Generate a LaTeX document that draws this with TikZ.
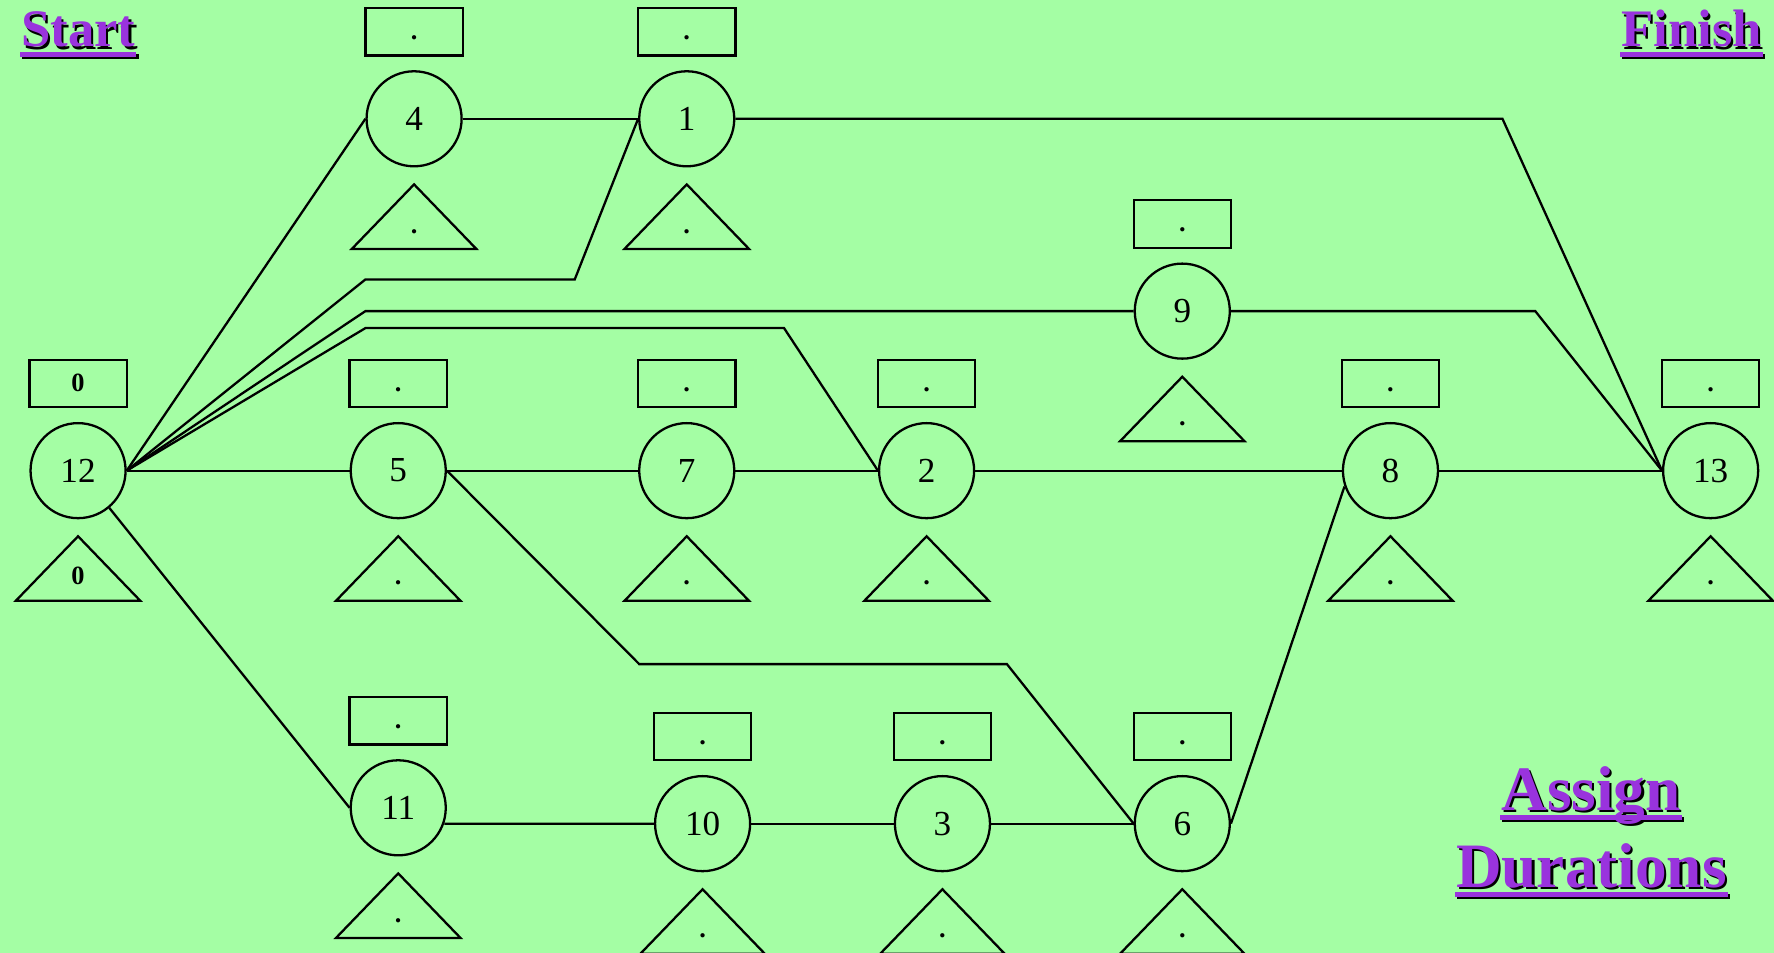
\documentclass[tikz,border=0pt]{standalone}
\usepackage{fontspec}
\setmainfont{Liberation Serif}
\usetikzlibrary{calc}
\definecolor{bggreen}{RGB}{164,254,164}
\definecolor{titlepurple}{RGB}{153,51,221}

% one activity: numbered circle, estimate box above, triangle below
\newcommand\activity[5]{%
  \node[ev] (n#1) at (#2,#3) {#4};
  \node[estbox] (b#1) at (#2,#3-77) {};
  \node[lbl] (bl#1) at (#2,#3-70) {#5};
  \draw[tri] (#2,#3+58) -- (#2+55,#3+115) -- (#2-55,#3+115) -- cycle;
  \node[lbl] (tl#1) at (#2,#3+101) {#5};
}

% underlined purple heading with a black drop shadow
\newcommand\heading[5]{%
  \node[ttl, text=black, font=\fontsize{#4}{#4}\selectfont\bfseries] (s#1) at (#2+2,#3+2) {#5};
  \fill[black] ($(s#1.base west)+(0,4.5)$) rectangle ($(s#1.base east)+(0,8.5)$);
  \node[ttl, text=titlepurple, font=\fontsize{#4}{#4}\selectfont\bfseries] (#1) at (#2,#3) {#5};
  \fill[titlepurple] ($(#1.base west)+(0,4.5)$) rectangle ($(#1.base east)+(0,8.5)$);
}

\begin{document}
\begin{tikzpicture}[
  x=0.022628cm, y=-0.022628cm,
  line width=1.3pt,
  ev/.style={draw, circle, inner sep=0pt, minimum size=1.9008cm,
             font=\fontsize{20pt}{24pt}\selectfont},
  estbox/.style={draw, rectangle, inner sep=0pt, minimum width=1.946cm, minimum height=0.95cm},
  lbl/.style={anchor=base, inner sep=0pt, font=\fontsize{15pt}{18pt}\selectfont\bfseries},
  tri/.style={draw, line join=miter},
  ttl/.style={anchor=base west, inner sep=0pt},
  link/.style={draw}
]
\fill[bggreen] (0,0) rectangle (1568,842);
\useasboundingbox (0,0) rectangle (1568,842);

\activity{12}{69}{416}{12}{0}
\activity{4}{366}{105}{4}{.}
\activity{1}{607}{105}{1}{.}
\activity{9}{1045}{275}{9}{.}
\activity{5}{352}{416}{5}{.}
\activity{7}{607}{416}{7}{.}
\activity{2}{819}{416}{2}{.}
\activity{8}{1229}{416}{8}{.}
\activity{13}{1512}{416}{13}{.}
\activity{11}{352}{714}{11}{.}
\activity{10}{621}{728}{10}{.}
\activity{3}{833}{728}{3}{.}
\activity{6}{1045}{728}{6}{.}

% precedence links
\draw[link] (n12.east) -- (n4.west);
\draw[link] (n12.east) -- (323,247) -- (508,247) -- (n1.west);
\draw[link] (n12.east) -- (323,275) -- (n9.west);
\draw[link] (n12.east) -- (323,290) -- (693,290) -- (n2.west);
\draw[link] (n12.east) -- (n5.west);
\draw[link] (n12.-50) -- (n11.west);
\draw[link] (n4.east) -- (n1.west);
\draw[link] (n1.east) -- (1328,105) -- (n13.west);
\draw[link] (n9.east) -- (1357,275) -- (n13.west);
\draw[link] (n5.east) -- (n7.west);
\draw[link] (n5.east) -- (565,587) -- (890,587) -- (n6.west);
\draw[link] (n7.east) -- (n2.west);
\draw[link] (n2.east) -- (n8.west);
\draw[link] (n8.east) -- (n13.west);
\draw[link] (n11.-19) -- (n10.west);
\draw[link] (n10.east) -- (n3.west);
\draw[link] (n3.east) -- (n6.west);
\draw[link] (n6.east) -- (n8.-161);

% headings
\heading{start}{17.7}{41.5}{30pt}{Start}
\heading{finish}{1432}{41.5}{30pt}{Finish}
\heading{assign}{1326}{716}{36pt}{Assign}
\heading{durations}{1286}{784}{36pt}{Durations}
\end{tikzpicture}
\end{document}
